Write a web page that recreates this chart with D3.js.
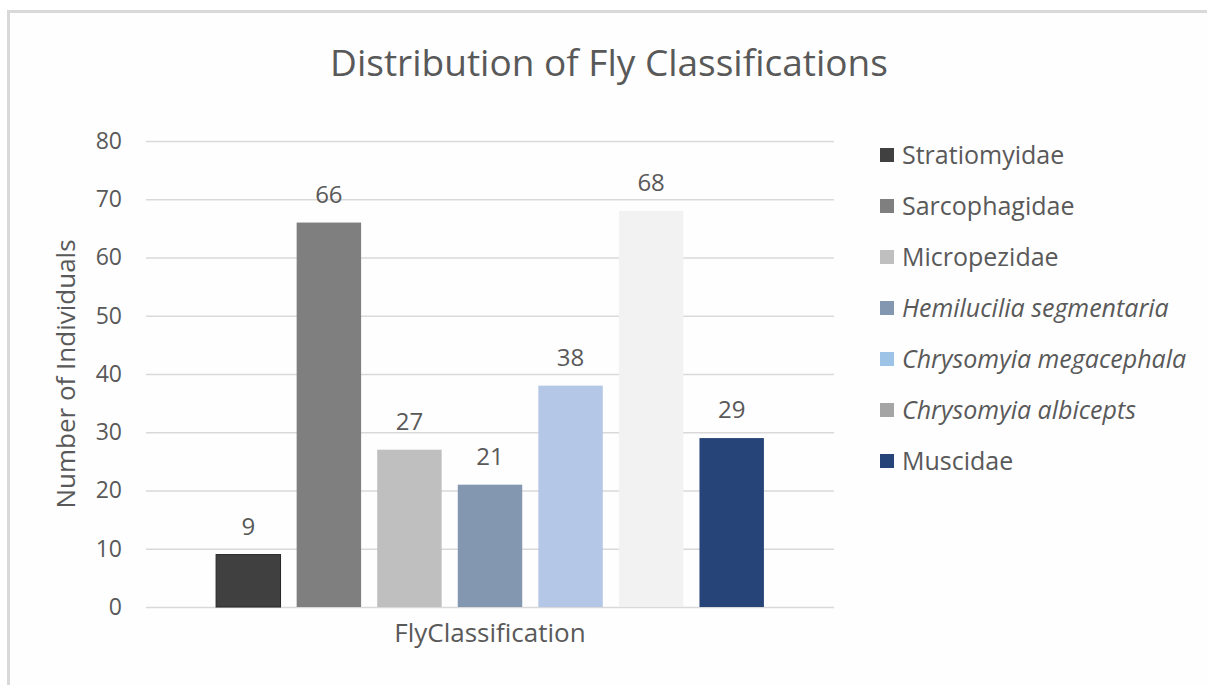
<!DOCTYPE html>
<html>
<head>
<meta charset="utf-8">
<script src="https://cdn.jsdelivr.net/npm/d3@7"></script>
<style>
  html, body { margin: 0; padding: 0; background: #ffffff; }
  svg { display: block; }
  text { font-family: "Open Sans", "DejaVu Sans", sans-serif; fill: #595959; }
</style>
</head>
<body>
<div id="chart"></div>
<script>
// chart values
const categories = ["Stratiomyidae", "Sarcophagidae", "Micropezidae", "Hemilucilia segmentaria",
                    "Chrysomyia megacephala", "Chrysomyia albicepts", "Muscidae"];
const counts = [9, 66, 27, 21, 38, 68, 29];
const italicNames = [false, false, false, true, true, true, false];
const barColors = ["#404040", "#7f7f7f", "#bfbfbf", "#8497b0", "#b4c7e7", "#f2f2f2", "#264478"];
const legendColors = ["#404040", "#7f7f7f", "#bfbfbf", "#8497b0", "#9dc3e6", "#a5a5a5", "#264478"];
const yTicks = [0, 10, 20, 30, 40, 50, 60, 70, 80];
const groupLabel = "FlyClassification";

const width = 1207, height = 685;
const plot = { left: 146, right: 834, top: 141, bottom: 607 };

const svg = d3.select('#chart').append('svg')
    .attr('width', width)
    .attr('height', height);

// chart frame
svg.append('rect')
    .attr('x', 8.5).attr('y', 11.5)
    .attr('width', 1300).attr('height', 800)
    .attr('fill', '#fefefe')
    .attr('stroke', '#d9d9d9')
    .attr('stroke-width', 3);

const y = d3.scaleLinear().domain([0, 80]).range([plot.bottom, plot.top]);
const x = d3.scaleBand()
    .domain(categories)
    .range([plot.left, plot.right])
    .paddingInner(0.2)
    .paddingOuter(0.87);

// gridlines + tick labels
const yAxis = d3.axisLeft(y)
    .tickValues(yTicks)
    .tickSize(-(plot.right - plot.left))
    .tickPadding(24);

const gy = svg.append('g')
    .attr('transform', `translate(${plot.left},0)`)
    .call(yAxis);
gy.select('.domain').remove();
gy.selectAll('.tick line').attr('stroke', '#d9d9d9').attr('stroke-width', 1.3);
gy.selectAll('.tick text')
    .attr('fill', '#595959')
    .style('font-family', '"Open Sans", sans-serif')
    .style('font-size', '23px');

// bars
svg.append('g').selectAll('rect')
    .data(categories)
    .join('rect')
    .attr('x', d => x(d))
    .attr('width', x.bandwidth())
    .attr('y', (d, i) => y(counts[i]))
    .attr('height', (d, i) => y(0) - y(counts[i]))
    .attr('fill', (d, i) => barColors[i])
    .attr('stroke', (d, i) => i === 0 ? '#262626' : 'none')
    .attr('stroke-width', 1);

// data labels
svg.append('g').selectAll('text')
    .data(categories)
    .join('text')
    .attr('x', d => x(d) + x.bandwidth() / 2)
    .attr('y', (d, i) => y(counts[i]) - 20)
    .attr('text-anchor', 'middle')
    .style('font-size', '24px')
    .text((d, i) => counts[i]);

// title
svg.append('text')
    .attr('x', 609).attr('y', 76)
    .attr('text-anchor', 'middle')
    .style('font-size', '37px')
    .text('Distribution of Fly Classifications');

// axis titles
svg.append('text')
    .attr('transform', `translate(75,${(plot.top + plot.bottom) / 2}) rotate(-90)`)
    .attr('text-anchor', 'middle')
    .style('font-size', '26px')
    .text('Number of Individuals');

svg.append('text')
    .attr('x', (plot.left + plot.right) / 2).attr('y', 642)
    .attr('text-anchor', 'middle')
    .style('font-size', '26px')
    .text(groupLabel);

// legend
const legend = svg.append('g').attr('transform', 'translate(880,155)');
const rows = legend.selectAll('g')
    .data(categories)
    .join('g')
    .attr('transform', (d, i) => `translate(0,${i * 51})`);

rows.append('rect')
    .attr('x', 0).attr('y', -7)
    .attr('width', 14).attr('height', 14)
    .attr('fill', (d, i) => legendColors[i]);

rows.append('text')
    .attr('x', 22).attr('y', 0)
    .attr('dy', '0.35em')
    .style('font-size', '25px')
    .style('font-style', (d, i) => italicNames[i] ? 'italic' : 'normal')
    .text(d => d);
</script>
</body>
</html>
